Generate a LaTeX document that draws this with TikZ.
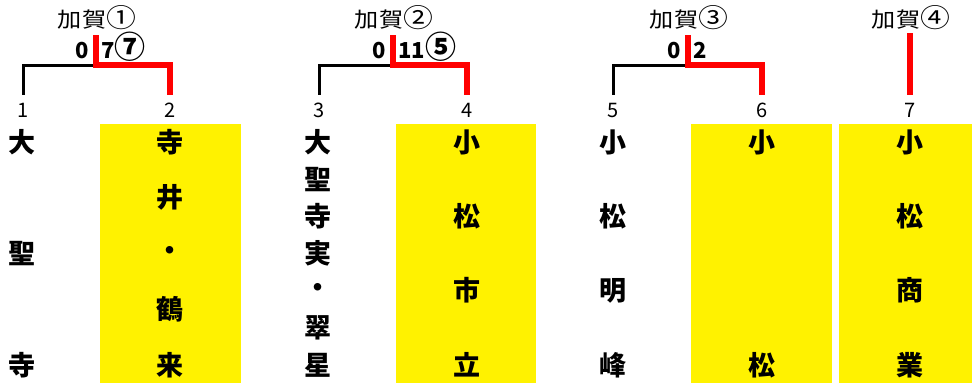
\documentclass[tikz,border=0pt]{standalone}
\usepackage{fontspec}
\setmainfont{Noto Sans CJK JP}
\newfontfamily\hdfont[FakeStretch=1.15]{Noto Sans CJK JP}

% one school name written top to bottom
\newcommand{\tate}[4]{%
  \foreach \ch [count=\i from 0] in {#4}
    \node[school] (#1-\i) at (#2,142+\i*#3) {\ch};
}
% circled number, drawn larger
\newcommand{\maru}[2][31]{{\fontsize{#1}{#1}\selectfont #2}}

\begin{document}
\begin{tikzpicture}[x=1pt, y=-1pt,
  every node/.style = {inner sep=0pt},
  kaga/.style = {font=\hdfont\fontsize{21}{21}\selectfont},
  seed/.style = {font=\fontsize{20}{20}\selectfont},
  score/.style = {font=\fontsize{22}{22}\selectfont\bfseries},
  school/.style = {font=\fontsize{27}{27}\selectfont\bfseries},
  lose/.style = {line width=3pt, black},
  win/.style = {line width=6pt, red, line join=miter},
  hit/.style = {fill=yellow}
  ]
  \useasboundingbox (0,0) rectangle (972,384);

  % winners
  \fill[hit] (100,124) rectangle (241,383);
  \fill[hit] (396,124) rectangle (536,383);
  \fill[hit] (691,124) rectangle (832,383);
  \fill[hit] (839,124) rectangle (972,383);

  % games
  \node[kaga] (h1) at (97,18) {加賀\maru[26]{①}};
  \node[kaga] (h2) at (394,18) {加賀\maru[26]{②}};
  \node[kaga] (h3) at (689,18) {加賀\maru[26]{③}};
  \node[kaga] (h4) at (911,18) {加賀\maru[26]{④}};

  \node[score, anchor=base east] (s1l) at (89,58) {0};
  \node[score, anchor=base west] (s1r) at (101,58) {7\maru{⑦}};
  \node[score, anchor=base east] (s2l) at (386,58) {0};
  \node[score, anchor=base west] (s2r) at (398,58) {11\maru{⑤}};
  \node[score, anchor=base east] (s3l) at (681,58) {0};
  \node[score, anchor=base west] (s3r) at (693,58) {2};

  % seeds
  \node[seed] (t1) at (23,110) {1};
  \node[seed] (t2) at (170,110) {2};
  \node[seed] (t3) at (319,110) {3};
  \node[seed] (t4) at (467,110) {4};
  \node[seed] (t5) at (613,110) {5};
  \node[seed] (t6) at (762,110) {6};
  \node[seed] (t7) at (910,110) {7};

  % bracket
  \coordinate (k1) at (96,35);  \coordinate (m1) at (96,65);
  \coordinate (k2) at (393,35); \coordinate (m2) at (393,65);
  \coordinate (k3) at (688,35); \coordinate (m3) at (688,65);
  \coordinate (k4) at (910,33);
  \coordinate (e1) at (23,95);  \coordinate (e2) at (170,95);
  \coordinate (e3) at (319,95); \coordinate (e4) at (467,95);
  \coordinate (e5) at (613,95); \coordinate (e6) at (762,95);
  \coordinate (e7) at (910,95);

  \draw[lose] (m1) -| (e1);
  \draw[lose] (m2) -| (e3);
  \draw[lose] (m3) -| (e5);
  \draw[win] (k1) -- (m1) -| (e2);
  \draw[win] (k2) -- (m2) -| (e4);
  \draw[win] (k3) -- (m3) -| (e6);
  \draw[win] (k4) -- (e7);

  % schools
  \tate{n1}{22}{111.5}{大,聖,寺}
  \tate{n2}{170}{55.75}{寺,井,・,鶴,来}
  \tate{n3}{318}{37.17}{大,聖,寺,実,・,翠,星}
  \tate{n4}{467}{74.33}{小,松,市,立}
  \tate{n5}{613}{74.33}{小,松,明,峰}
  \tate{n6}{762}{223}{小,松}
  \tate{n7}{910}{74.33}{小,松,商,業}
\end{tikzpicture}
\end{document}
